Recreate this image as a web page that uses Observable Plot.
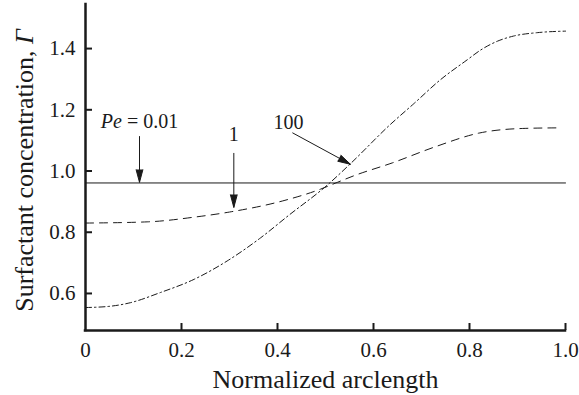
<!DOCTYPE html>
<html>
<head>
<meta charset="utf-8">
<script src="https://cdn.jsdelivr.net/npm/d3@7"></script>
<script src="https://cdn.jsdelivr.net/npm/@observablehq/plot@0.6"></script>
<style>
  html, body { margin: 0; padding: 0; background: #fff; }
  #chart { width: 579px; height: 395px; }
</style>
</head>
<body>
<div id="chart"></div>
<script>
// ---- data ----
const xTicks = [0, 0.2, 0.4, 0.6, 0.8, 1.0];
const xTickLabels = ["0", "0.2", "0.4", "0.6", "0.8", "1.0"];
const yTicks = [0.6, 0.8, 1.0, 1.2, 1.4];
const yTickLabels = ["0.6", "0.8", "1.0", "1.2", "1.4"];
const xDomain = [0, 1];
const yDomain = [0.479, 1.544];
const xLabel = "Normalized arclength";
const yLabel = "Surfactant concentration, Γ";

// Pe = 0.01 (solid)
const arcPe001 = [0, 1.0];
const gammaPe001 = [0.961, 0.961];

// Pe = 1 (dashed)
const arcPe1 = [0, 0.13, 0.23, 0.30, 0.41, 0.49, 0.52, 0.56, 0.64, 0.73, 0.82, 0.91, 0.985];
const gammaPe1 = [0.830, 0.834, 0.850, 0.866, 0.902, 0.941, 0.960, 0.985, 1.027, 1.080, 1.124, 1.139, 1.141];

// Pe = 100 (dash-dot)
const arcPe100 = [0, 0.05, 0.094, 0.156, 0.226, 0.295, 0.365, 0.424, 0.503, 0.552, 0.635, 0.684, 0.740, 0.795, 0.823, 0.858, 0.892, 0.941, 1.0];
const gammaPe100 = [0.554, 0.558, 0.570, 0.603, 0.646, 0.706, 0.782, 0.856, 0.953, 1.024, 1.152, 1.220, 1.299, 1.363, 1.395, 1.424, 1.441, 1.452, 1.457];

// annotations
const annLabels = ["Pe = 0.01", "1", "100"];
const annX = [0.1125, 0.309, 0.423];
const annY = [1.163, 1.118, 1.157];
const arrowX1 = [0.1125, 0.309, 0.431];
const arrowY1 = [1.114, 1.059, 1.125];
const arrowX2 = [0.1125, 0.309, 0.552];
const arrowY2 = [0.963, 0.881, 1.022];

// ---- build tables ----
const toRows = (xs, ys) => xs.map((x, i) => ({x, y: ys[i]}));
const rows001 = toRows(arcPe001, gammaPe001);
const rows1 = toRows(arcPe1, gammaPe1);
const rows100 = toRows(arcPe100, gammaPe100);
const ann = annLabels.map((t, i) => ({t, x: annX[i], y: annY[i]}));
const arrows = arrowX1.map((x1, i) => ({x1, y1: arrowY1[i], x2: arrowX2[i], y2: arrowY2[i]}));

const ink = "#1a1a1a";
const font = "'Liberation Serif', 'Times New Roman', serif";

const chart = Plot.plot({
  width: 579,
  height: 395,
  marginLeft: 85,
  marginRight: 14,
  marginTop: 4,
  marginBottom: 65,
  x: {domain: xDomain},
  y: {domain: yDomain},
  style: {fontFamily: font, fontSize: "21px", color: ink, background: "#fff"},
  marks: [
    Plot.axisX(xTicks, {tickSize: 0, tickPadding: 12, label: null, fontSize: 21,
      tickFormat: d => xTickLabels[xTicks.indexOf(d)]}),
    Plot.axisY(yTicks, {tickSize: 0, tickPadding: 10, label: null, fontSize: 21,
      tickFormat: d => yTickLabels[yTicks.indexOf(d)]}),
    Plot.tickX(xTicks.filter(d => d > 0), {x: d => d, insetTop: 319, stroke: ink, strokeWidth: 2}),
    Plot.tickY(yTicks, {y: d => d, insetRight: 473, stroke: ink, strokeWidth: 2}),
    Plot.ruleX([xDomain[0]], {stroke: ink, strokeWidth: 2.5, strokeLinecap: "square"}),
    Plot.ruleY([yDomain[0]], {stroke: ink, strokeWidth: 2.5, strokeLinecap: "square"}),
    Plot.line(rows001, {x: "x", y: "y", stroke: ink, strokeWidth: 1}),
    Plot.line(rows1, {x: "x", y: "y", stroke: ink, strokeWidth: 1, strokeDasharray: "8,6", curve: "monotone-x"}),
    Plot.line(rows100, {x: "x", y: "y", stroke: ink, strokeWidth: 1, strokeDasharray: "6,3,1.5,3", curve: "monotone-x"}),
    Plot.arrow(arrows, {x1: "x1", y1: "y1", x2: "x2", y2: "y2", stroke: ink, fill: ink,
      strokeWidth: 1, headLength: 20, headAngle: 30, strokeLinecap: "butt"}),
    Plot.text(ann, {x: "x", y: "y", text: "t", fontSize: 20, fill: ink}),
    Plot.text([xLabel], {frameAnchor: "bottom", textAnchor: "middle", lineAnchor: "middle",
      dy: 49, fontSize: 26, fill: ink}),
    Plot.text([yLabel], {frameAnchor: "left", textAnchor: "middle", lineAnchor: "middle",
      rotate: -90, dx: -61, dy: 3, fontSize: 26, fill: ink})
  ]
});

document.getElementById("chart").appendChild(chart);

// italicize the symbols Pe and Γ
d3.select(chart).selectAll("text").each(function() {
  const el = d3.select(this);
  const txt = this.textContent;
  if (txt === "Pe = 0.01") {
    el.text("");
    el.append("tspan").attr("font-style", "italic").text("Pe");
    el.append("tspan").text(" = 0.01");
  } else if (txt === yLabel) {
    el.text("");
    el.append("tspan").text("Surfactant concentration, ");
    el.append("tspan").attr("font-style", "italic").text("Γ");
  }
});
</script>
</body>
</html>
